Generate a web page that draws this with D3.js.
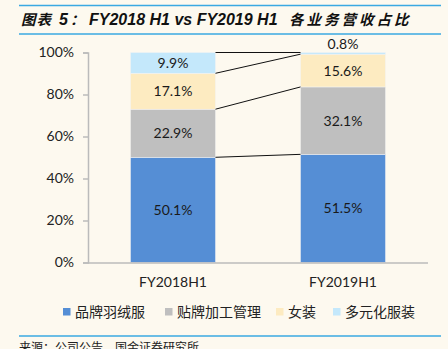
<!DOCTYPE html>
<html><head><meta charset="utf-8">
<script src="https://cdn.jsdelivr.net/npm/d3@7"></script>
<style>
html,body{margin:0;padding:0;background:#FDF9EF;}
svg{display:block;}
</style></head>
<body>
<svg id="c" width="448" height="349"></svg>
<script>
const categories = ["FY2018H1", "FY2019H1"];
const seriesNames = ["品牌羽绒服", "贴牌加工管理", "女装", "多元化服装"];
const brandDown = [50.1, 51.5];
const oemMgmt = [22.9, 32.1];
const womenWear = [17.1, 15.6];
const diversified = [9.9, 0.8];
const yTicks = [0, 20, 40, 60, 80, 100];
const colors = ["#558ED5", "#BFBFBF", "#FDEBC1", "#C4E8FB"];

const seriesVals = [brandDown, oemMgmt, womenWear, diversified];
const rows = categories.map((c, i) => {
  const r = {cat: c};
  seriesNames.forEach((s, k) => r[s] = seriesVals[k][i]);
  return r;
});
const stacked = d3.stack().keys(seriesNames)(rows);

const svg = d3.select("#c");
const cjk = "'Noto Sans CJK SC', sans-serif";
const lat = "Lato, 'Noto Sans CJK SC', sans-serif";
const arial = "'Liberation Sans', Arial, sans-serif";

// title lines
svg.append("line").attr("x1", 19).attr("x2", 441).attr("y1", 5.5).attr("y2", 5.5).attr("stroke", "#3AA9E2").attr("stroke-width", 1.5);
svg.append("line").attr("x1", 19).attr("x2", 441).attr("y1", 34).attr("y2", 34).attr("stroke", "#3AA9E2").attr("stroke-width", 1.5);
const title = svg.append("text").attr("y", 25).attr("font-weight", "bold").attr("font-style", "italic").attr("fill", "#111");
title.append("tspan").attr("x", 21).attr("font-family", cjk).attr("font-size", 14.5).attr("letter-spacing", 1).text("图表");
title.append("tspan").attr("x", 59).attr("font-family", arial).attr("font-size", 16).text("5");
title.append("tspan").attr("x", 70).attr("font-family", cjk).attr("font-size", 14.5).text("：");
title.append("tspan").attr("x", 89).attr("font-family", arial).attr("font-size", 16).text("FY2018 H1 vs FY2019 H1");
title.append("tspan").attr("x", 289).attr("font-family", cjk).attr("font-size", 14.5).attr("letter-spacing", 3).text("各业务营收占比");

const x = d3.scaleBand().domain(categories).range([88, 428]).paddingInner(0.5).paddingOuter(0.25);
const y = d3.scaleLinear().domain([0, 100]).range([262.5, 52.5]);

// y axis
const yAxis = d3.axisLeft(y).tickValues(yTicks).tickFormat(d => d + "%").tickSize(5).tickPadding(9);
const yg = svg.append("g").attr("transform", "translate(88,0)").call(yAxis);
yg.select(".domain").attr("stroke", "#BBBBBB").attr("stroke-width", 1.5);
yg.selectAll(".tick line").attr("stroke", "#BBBBBB").attr("stroke-width", 1.5);
yg.selectAll(".tick text").attr("font-size", 14).attr("font-family", lat).attr("fill", "#222");

// bars
const layers = svg.append("g").selectAll("g").data(stacked).join("g").attr("fill", (d, i) => colors[i]);
layers.selectAll("rect").data(d => d).join("rect")
  .attr("x", d => x(d.data.cat)).attr("width", x.bandwidth())
  .attr("y", d => y(d[1])).attr("height", d => y(d[0]) - y(d[1]))
  .attr("stroke", "#F4F4F4").attr("stroke-width", 0.5);

// connector lines
[0, 1, 2, 3].forEach(k => {
  const s = stacked[k];
  svg.append("line")
    .attr("x1", x(categories[0]) + x.bandwidth()).attr("y1", y(s[0][1]))
    .attr("x2", x(categories[1])).attr("y2", y(s[1][1]))
    .attr("stroke", "#111").attr("stroke-width", 1);
});

// x axis
const xAxis = d3.axisBottom(x).tickSize(0).tickPadding(14);
const xg = svg.append("g").attr("transform", "translate(0,263)").call(xAxis);
xg.select(".domain").attr("stroke", "#BBBBBB").attr("stroke-width", 1.5).attr("d", "M88,0H428");
xg.selectAll(".tick text").attr("font-size", 14).attr("font-family", lat).attr("fill", "#222");

// value labels
stacked.forEach((s, k) => {
  s.forEach(d => {
    const v = d[1] - d[0];
    const small = v < 3;
    svg.append("text")
      .attr("x", x(d.data.cat) + x.bandwidth() / 2)
      .attr("y", small ? y(d[1]) - 4 : (y(d[0]) + y(d[1])) / 2 + 5)
      .attr("text-anchor", "middle").attr("font-size", 14).attr("font-family", lat).attr("fill", "#1a1a1a")
      .text(v.toFixed(1) + "%");
  });
});

// legend
const legendX = [63, 165, 276, 333];
seriesNames.forEach((s, i) => {
  const g = svg.append("g").attr("transform", `translate(${legendX[i]},308)`);
  g.append("rect").attr("width", 7.5).attr("height", 7.5).attr("fill", colors[i]);
  g.append("text").attr("x", 12).attr("y", 9).attr("font-size", 14).attr("font-family", cjk).attr("fill", "#222").text(s);
});

// bottom line and source
svg.append("line").attr("x1", 19).attr("x2", 441).attr("y1", 336).attr("y2", 336).attr("stroke", "#3AA9E2").attr("stroke-width", 1.5);
svg.append("text").attr("x", 19).attr("y", 352).attr("font-size", 12).attr("font-family", cjk).attr("fill", "#222").text("来源：公司公告，国金证券研究所");
</script>
</body></html>
